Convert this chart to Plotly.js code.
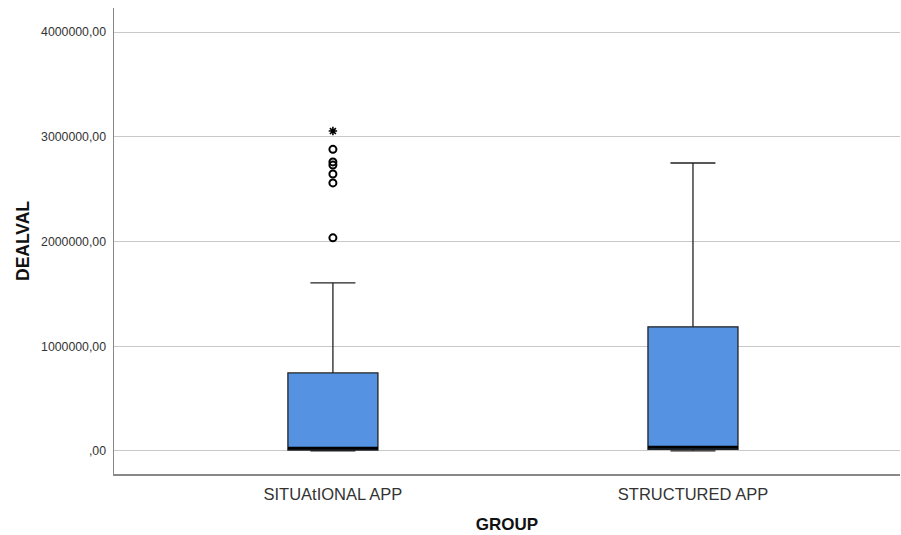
<!DOCTYPE html>
<html><head><meta charset="utf-8">
<script src="https://cdn.plot.ly/plotly-3.0.1.min.js"></script>
<style>html,body{margin:0;padding:0;background:#fff}#chart{width:901px;height:535px}</style>
</head><body><div id="chart"></div>
<script>
const groups = ["SITUAtIONAL APP", "STRUCTURED APP"];
const q1 = [8000, 15000];
const medians = [25000, 35000];
const q3 = [745000, 1185000];
const lowerWhisker = [0, 0];
const upperWhisker = [1605000, 2750000];
const outliersSituational = [2035000, 2560000, 2645000, 2730000, 2760000, 2880000];
const extremeSituational = [3055000];
const yTickVals = [0, 1000000, 2000000, 3000000, 4000000];
const yTickText = [",00", "1000000,00", "2000000,00", "3000000,00", "4000000,00"];

const boxWidth = 0.25;
const traces = [];
groups.forEach((g, i) => {
  traces.push({
    type: "box", x: [i], q1: [q1[i]], median: [medians[i]], q3: [q3[i]],
    lowerfence: [lowerWhisker[i]], upperfence: [upperWhisker[i]],
    width: boxWidth, whiskerwidth: 0.5,
    fillcolor: "#5592e2", line: {color: "#222", width: 1.3},
    boxpoints: false, hoverinfo: "skip", showlegend: false
  });
  traces.push({
    type: "scatter", mode: "lines",
    x: [i - boxWidth / 2, i + boxWidth / 2], y: [medians[i], medians[i]],
    line: {color: "#000", width: 3}, showlegend: false, hoverinfo: "skip"
  });
});
traces.push({
  type: "scatter", mode: "markers",
  x: outliersSituational.map(() => 0), y: outliersSituational,
  marker: {symbol: "circle-open", size: 7, color: "#000", line: {width: 2, color: "#000"}},
  showlegend: false
});
traces.push({
  type: "scatter", mode: "markers",
  x: extremeSituational.map(() => 0), y: extremeSituational,
  marker: {symbol: "asterisk-open", size: 7, color: "#000", line: {width: 1.6, color: "#000"}},
  showlegend: false
});

const layout = {
  width: 901, height: 535,
  margin: {l: 114, r: 1, t: 8, b: 61},
  paper_bgcolor: "#fff", plot_bgcolor: "#fff",
  font: {family: "Liberation Sans, Arial, sans-serif", color: "#333"},
  xaxis: {
    range: [-0.608, 1.575], tickvals: [0, 1], ticktext: groups,
    showgrid: false, zeroline: false, showline: true, linecolor: "#888", linewidth: 1.5,
    ticks: "", ticklabelstandoff: 5, tickfont: {size: 16.5, color: "#333"},
    title: {text: "<b>GROUP</b>", font: {size: 17, color: "#111"}, standoff: 16}
  },
  yaxis: {
    range: [-220000, 4230000], tickvals: yTickVals, ticktext: yTickText,
    showgrid: true, gridcolor: "#c8c8c8", gridwidth: 1, zeroline: false,
    showline: true, linecolor: "#888", linewidth: 1.5,
    ticks: "", ticklabelstandoff: 4, tickfont: {size: 12.3, color: "#333"},
    title: {text: "<b>DEALVAL</b>", font: {size: 17.5, color: "#111"}, standoff: 7}
  }
};
Plotly.newPlot("chart", traces, layout, {displayModeBar: false, staticPlot: true});
</script></body></html>
